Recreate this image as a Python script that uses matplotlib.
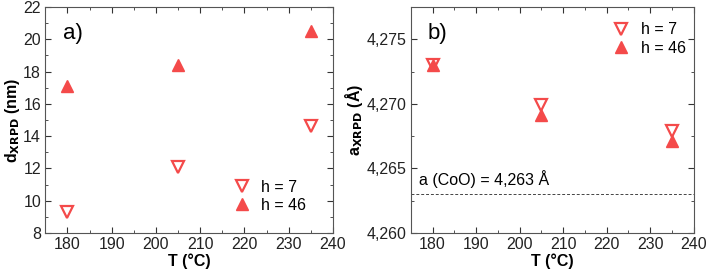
import matplotlib
matplotlib.use("Agg")
import matplotlib.pyplot as plt
from matplotlib.ticker import MultipleLocator, FuncFormatter

plt.rcParams['font.family'] = ['Liberation Sans', 'DejaVu Sans']
plt.rcParams['font.size'] = 11.5

# data
T = [180, 205, 235]
d_h7 = [9.3, 12.1, 14.6]
d_h46 = [17.1, 18.4, 20.5]
a_h7 = [4.2730, 4.2699, 4.2679]
a_h46 = [4.2730, 4.2691, 4.2671]
a_CoO = 4.263

red = '#F44A4A'

fig = plt.figure(figsize=(7.07, 2.78), dpi=100)
axA = fig.add_axes([0.064, 0.162, 0.407, 0.813])
axB = fig.add_axes([0.581, 0.162, 0.400, 0.813])

def style(ax):
    ax.xaxis.set_major_locator(MultipleLocator(10))
    ax.xaxis.set_minor_locator(MultipleLocator(5))
    ax.tick_params(which='both', direction='in', top=True, right=True, colors='#333333',
                   labelcolor='#222222', pad=3)
    ax.tick_params(which='major', length=4)
    ax.tick_params(which='minor', length=2)
    for s in ax.spines.values():
        s.set_color('#555555')
    ax.set_xlim(175, 240)
    ax.set_xlabel('T (°C)', fontweight='bold', labelpad=1)

# panel a
axA.plot(T, d_h7, linestyle='none', marker='v', ms=8, mfc='none', mec=red, mew=1.6, label='h = 7')
axA.plot(T, d_h46, linestyle='none', marker='^', ms=8, color=red, label='h = 46')
style(axA)
axA.set_ylim(8, 22)
axA.yaxis.set_major_locator(MultipleLocator(2))
axA.yaxis.set_minor_locator(MultipleLocator(1))
axA.set_ylabel(r'd$_{\mathbf{XRPD}}$ (nm)', fontweight='bold', labelpad=1)
axA.text(0.06, 0.93, 'a)', transform=axA.transAxes, fontsize=16, va='top')
axA.legend(loc='lower right', frameon=False, handletextpad=0.5, bbox_to_anchor=(0.93, 0.06),
           borderaxespad=0, labelspacing=0.2, fontsize=11.5, handlelength=1.5)

# panel b
axB.plot(T, a_h7, linestyle='none', marker='v', ms=8, mfc='none', mec=red, mew=1.6, label='h = 7')
axB.plot(T, a_h46, linestyle='none', marker='^', ms=8, color=red, label='h = 46')
style(axB)
axB.axhline(a_CoO, color='#444444', lw=0.7, ls=(0, (3, 2)))
axB.set_ylim(4.260, 4.2775)
axB.yaxis.set_major_locator(MultipleLocator(0.005))
axB.yaxis.set_minor_locator(MultipleLocator(0.0025))
axB.yaxis.set_major_formatter(FuncFormatter(lambda v, p: f'{v:.3f}'.replace('.', ',')))
axB.set_ylabel(r'a$_{\mathbf{XRPD}}$ (Å)', fontweight='bold', labelpad=1)
axB.text(0.06, 0.93, 'b)', transform=axB.transAxes, fontsize=16, va='top')
axB.text(177.0, 4.2635, 'a (CoO) = 4,263 Å', fontsize=11.5, va='bottom')
axB.legend(loc='upper right', frameon=False, handletextpad=0.5, bbox_to_anchor=(0.995, 0.96),
           borderaxespad=0, labelspacing=0.2, fontsize=11.5, handlelength=1.5)

fig.savefig('out.png', dpi=100)
